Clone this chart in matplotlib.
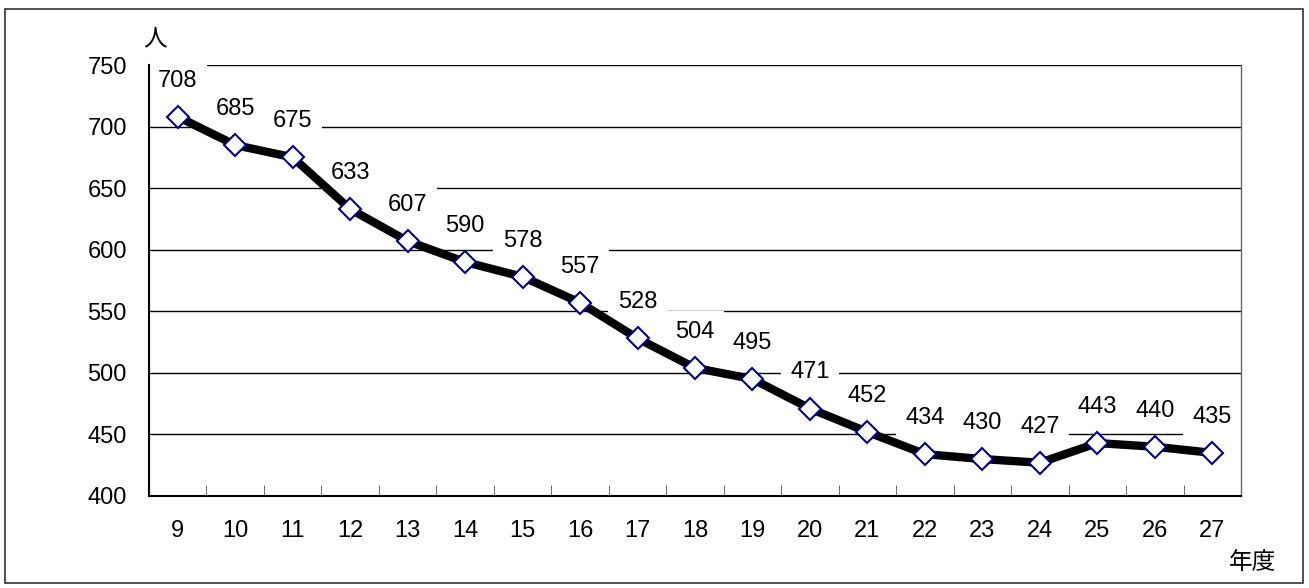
import matplotlib.pyplot as plt
from matplotlib.patches import Rectangle

plt.rcParams['font.family'] = ['Liberation Sans', 'Noto Sans CJK JP']

years = ["9", "10", "11", "12", "13", "14", "15", "16", "17", "18",
         "19", "20", "21", "22", "23", "24", "25", "26", "27"]
people = [708, 685, 675, 633, 607, 590, 578, 557, 528, 504,
          495, 471, 452, 434, 430, 427, 443, 440, 435]

fig = plt.figure(figsize=(13.09, 5.88), dpi=100)
ax = fig.add_axes([149/1309, 1-496/588, (1241-149)/1309, (496-65)/588])

x = list(range(len(years)))
ax.plot(x, people, color="black", linewidth=6, zorder=3)
ax.plot(x, people, linestyle="none", marker="D", markersize=11,
        markerfacecolor="white", markeredgecolor="#000080", markeredgewidth=1.5, zorder=4)

# value labels with white boxes hiding the gridlines
for xi, v in zip(x, people):
    ax.annotate(str(v), (xi, v), xytext=(0, 26), textcoords="offset points",
                ha="center", va="center", fontsize=17,
                bbox=dict(boxstyle="square,pad=0.4", facecolor="white", edgecolor="none"),
                zorder=2.5)

ax.set_xlim(-0.5, len(years) - 0.5)
ax.set_ylim(400, 750)
ax.set_yticks(range(400, 751, 50))
ax.yaxis.grid(True, color="black", linewidth=1)
ax.set_axisbelow(True)
ax.tick_params(axis="y", length=0, pad=16, labelsize=17)

ax.set_xticks(x)
ax.set_xticklabels(years)
ax.tick_params(axis="x", which="major", length=0, pad=17, labelsize=17)
ax.set_xticks([i + 0.5 for i in x[:-1]], minor=True)
ax.tick_params(axis="x", which="minor", direction="in", length=8, color="#555555")

for s in ax.spines.values():
    s.set_linewidth(1.5)
ax.spines["top"].set_visible(False)
ax.spines["right"].set_color("#666666")
ax.spines["right"].set_linewidth(1)

fig.text(155/1309, 1-39/588, "人", fontsize=17, ha="center", va="center")
fig.text(1252/1309, 1-563/588, "年度", fontsize=17, ha="center", va="center")

fig.patches.append(Rectangle((5/1309, 1-583/588), 1298/1309, 574/588,
                             transform=fig.transFigure, fill=False,
                             edgecolor="#333333", linewidth=1.2))

fig.savefig("out.png", dpi=100)
